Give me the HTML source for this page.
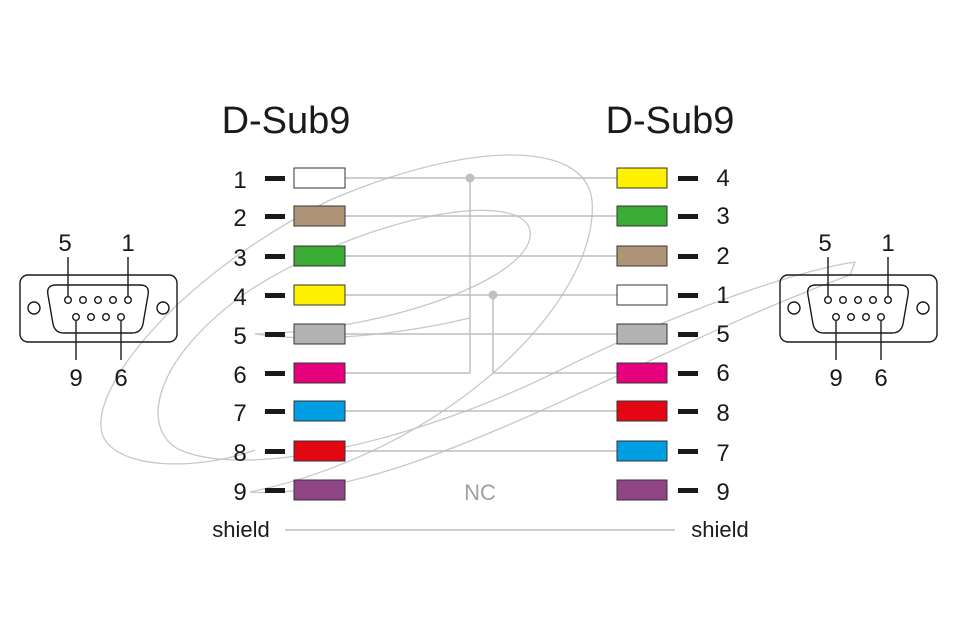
<!DOCTYPE html>
<html><head><meta charset="utf-8"><style>
body{margin:0;background:#fff}
svg{display:block}
text{font-family:"Liberation Sans",sans-serif;fill:#1a1a1a}
</style></head><body>
<svg width="960" height="640" viewBox="0 0 960 640" xmlns="http://www.w3.org/2000/svg">
<!-- watermark -->
<g fill="none" stroke="#c8c8c8" stroke-width="1.3">
<path d="M250 492 C450 450 600 300 592 200 C585 140 470 140 330 200 C170 280 80 400 105 440 C125 470 200 470 255 450"/>
<path d="M255 334 C400 330 550 270 528 225 C505 190 360 220 250 290 C150 360 140 430 180 450 C250 480 420 440 560 370 C680 310 800 270 855 262 L850 275 C700 330 560 410 420 460 C350 485 290 495 250 492"/>
<path d="M255 334 C330 345 420 330 470 318"/>
</g>
<text x="286" y="133" font-size="38" text-anchor="middle">D-Sub9</text>
<text x="670" y="133" font-size="38" text-anchor="middle">D-Sub9</text>
<!-- wires -->
<g stroke="#bdbdbd" stroke-width="1.4" fill="none">
<line x1="345" y1="178" x2="617" y2="178"/>
<line x1="345" y1="216" x2="617" y2="216"/>
<line x1="345" y1="256" x2="617" y2="256"/>
<line x1="345" y1="295" x2="617" y2="295"/>
<line x1="345" y1="334" x2="617" y2="334"/>
<polyline points="345,373 470,373 470,178"/>
<polyline points="493,295 493,373 617,373"/>
<line x1="345" y1="411" x2="617" y2="411"/>
<line x1="345" y1="451" x2="617" y2="451"/>
<line x1="285" y1="530" x2="675" y2="530"/>
</g>
<circle cx="470" cy="178" r="4.5" fill="#c0c0c0"/>
<circle cx="493" cy="295" r="4.5" fill="#c0c0c0"/>
<text x="480" y="500" font-size="22" fill="#a0a0a0" text-anchor="middle" style="fill:#a0a0a0">NC</text>
<!-- left pins -->
<g stroke="#333" stroke-width="1">
<rect x="294" y="168" width="51" height="20" fill="#fff"/>
<rect x="294" y="206" width="51" height="20" fill="#b09478"/>
<rect x="294" y="246" width="51" height="20" fill="#3aab35"/>
<rect x="294" y="285" width="51" height="20" fill="#fff200"/>
<rect x="294" y="324" width="51" height="20" fill="#b3b3b3"/>
<rect x="294" y="363" width="51" height="20" fill="#e6007e"/>
<rect x="294" y="401" width="51" height="20" fill="#009fe3"/>
<rect x="294" y="441" width="51" height="20" fill="#e30613"/>
<rect x="294" y="480" width="51" height="20" fill="#8f4585"/>
<rect x="617" y="168" width="50" height="20" fill="#fff200"/>
<rect x="617" y="206" width="50" height="20" fill="#3aab35"/>
<rect x="617" y="246" width="50" height="20" fill="#b09478"/>
<rect x="617" y="285" width="50" height="20" fill="#fff"/>
<rect x="617" y="324" width="50" height="20" fill="#b3b3b3"/>
<rect x="617" y="363" width="50" height="20" fill="#e6007e"/>
<rect x="617" y="401" width="50" height="20" fill="#e30613"/>
<rect x="617" y="441" width="50" height="20" fill="#009fe3"/>
<rect x="617" y="480" width="50" height="20" fill="#8f4585"/>
</g>
<g fill="#1a1a1a">
<rect x="265" y="176" width="20" height="5"/><rect x="265" y="214" width="20" height="5"/><rect x="265" y="254" width="20" height="5"/>
<rect x="265" y="293" width="20" height="5"/><rect x="265" y="332" width="20" height="5"/><rect x="265" y="371" width="20" height="5"/>
<rect x="265" y="409" width="20" height="5"/><rect x="265" y="449" width="20" height="5"/><rect x="265" y="488" width="20" height="5"/>
<rect x="678" y="176" width="20" height="5"/><rect x="678" y="214" width="20" height="5"/><rect x="678" y="254" width="20" height="5"/>
<rect x="678" y="293" width="20" height="5"/><rect x="678" y="332" width="20" height="5"/><rect x="678" y="371" width="20" height="5"/>
<rect x="678" y="409" width="20" height="5"/><rect x="678" y="449" width="20" height="5"/><rect x="678" y="488" width="20" height="5"/>
</g>
<g font-size="24" text-anchor="middle">
<text x="240" y="188">1</text><text x="240" y="226">2</text><text x="240" y="266">3</text><text x="240" y="305">4</text><text x="240" y="344">5</text><text x="240" y="383">6</text><text x="240" y="421">7</text><text x="240" y="461">8</text><text x="240" y="500">9</text>
<text x="723" y="186">4</text><text x="723" y="224">3</text><text x="723" y="264">2</text><text x="723" y="303">1</text><text x="723" y="342">5</text><text x="723" y="381">6</text><text x="723" y="421">8</text><text x="723" y="461">7</text><text x="723" y="500">9</text>
</g>
<text x="241" y="537" font-size="22" text-anchor="middle">shield</text>
<text x="720" y="537" font-size="22" text-anchor="middle">shield</text>
<!-- connectors -->
<g id="c" fill="none" stroke="#1a1a1a" stroke-width="1.4">
<rect x="20" y="275" width="157" height="67" rx="8"/>
<path d="M56 285 H140 Q150 285 148 295 L143 324 Q141 333 132 333 H64 Q55 333 53 324 L48 295 Q46 285 56 285 Z"/>
<circle cx="34" cy="308" r="6"/><circle cx="163" cy="308" r="6"/>
<circle cx="68" cy="300" r="3.3"/><circle cx="83" cy="300" r="3.3"/><circle cx="98" cy="300" r="3.3"/><circle cx="113" cy="300" r="3.3"/><circle cx="128" cy="300" r="3.3"/>
<circle cx="76" cy="317" r="3.3"/><circle cx="91" cy="317" r="3.3"/><circle cx="106" cy="317" r="3.3"/><circle cx="121" cy="317" r="3.3"/>
<line x1="68" y1="257" x2="68" y2="296"/><line x1="128" y1="257" x2="128" y2="296"/>
<line x1="76" y1="321" x2="76" y2="360"/><line x1="121" y1="321" x2="121" y2="360"/>
</g>
<g font-size="24" text-anchor="middle">
<text x="65" y="251">5</text><text x="128" y="251">1</text><text x="76" y="386">9</text><text x="121" y="386">6</text>
</g>
<use href="#c" x="760"/>
<g font-size="24" text-anchor="middle">
<text x="825" y="251">5</text><text x="888" y="251">1</text><text x="836" y="386">9</text><text x="881" y="386">6</text>
</g>
</svg>
</body></html>
